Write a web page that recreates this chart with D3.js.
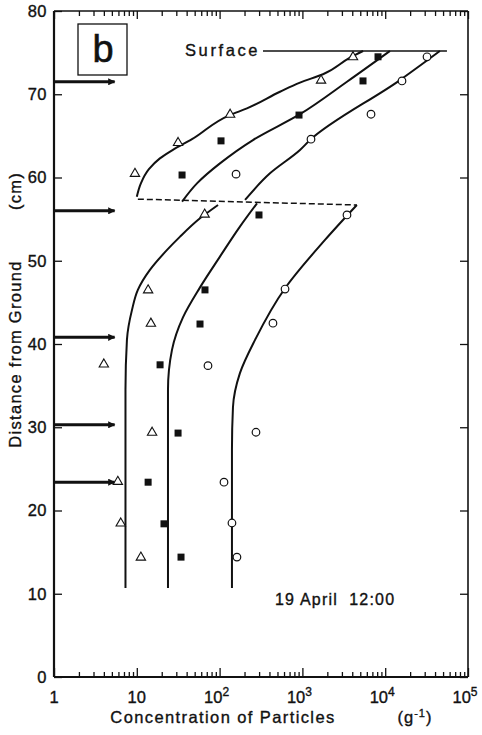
<!DOCTYPE html>
<html>
<head>
<meta charset="utf-8">
<script src="https://cdn.jsdelivr.net/npm/d3@7"></script>
<style>
    body { margin: 0; background: #fff; }
    svg { display: block; font-family: "Liberation Sans", Arial, sans-serif; }
    svg text { fill: #111; stroke: #111; stroke-width: 0.35px; }
    .axis line { stroke: #111; stroke-width: 1.3; }
</style>
</head>
<body>
<svg id="chart"></svg>
<script>
// Data: [concentration (g^-1), height (cm)]
let triangleObs = [[4085, 74.4], [1680, 71.6], [134, 67.5], [31.5, 64.1], [9.5, 60.4],
    [66, 55.5], [13.7, 46.4], [14.8, 42.4], [4.0, 37.5], [15.3, 29.3], [5.9, 23.4],
    [6.4, 18.4], [11.2, 14.3]];
let squareObs = [[8190, 74.5], [5395, 71.6], [910, 67.5], [104, 64.4], [35.2, 60.3],
    [299, 55.5], [66.6, 46.5], [58, 42.4], [19.1, 37.5], [31.5, 29.3], [13.7, 23.4],
    [21.3, 18.4], [34.2, 14.4]];
let circleObs = [[32000, 74.5], [15950, 71.6], [6740, 67.6], [1270, 64.6], [158, 60.4],
    [3455, 55.5], [617, 46.6], [441, 42.5], [72.4, 37.4], [275, 29.4], [113, 23.4],
    [141, 18.5], [162, 14.4]];

// Fitted curves, above and below the dashed boundary
let triangleUpper = [[10.0, 57.7], [11.2, 59.3], [14.0, 61.0], [19.0, 62.3], [27.0, 63.3],
    [46.4, 64.6], [133, 67.5], [214, 68.3], [536, 70.3], [935, 71.4], [1774, 72.4],
    [3757, 74.4], [5400, 75.2]];
let squareUpper = [[35.2, 57.1], [53.3, 59.3], [101, 61.7], [253, 64.5], [935, 67.6],
    [3455, 71.5], [11430, 75.2]];
let circleUpper = [[203, 57.3], [406, 60.5], [935, 63.3], [1236, 64.5], [15100, 71.7],
    [45900, 75.2]];
let triangleLower = [[95.7, 56.7], [58, 55.1], [33.3, 52.9], [23.2, 51.3], [14.4, 48.9],
    [10.3, 46.5], [8.75, 44.1], [7.6, 40.5], [7.3, 34.5], [7.3, 10.7]];
let squareLower = [[283, 56.9], [176, 54.1], [101, 50.5], [58, 46.8], [36.1, 43.2],
    [26.6, 39.3], [23.8, 34.5], [23.8, 10.7]];
let circleLower = [[4550, 56.7], [1875, 52.5], [617, 46.7], [268, 40.5], [176, 36.5],
    [145, 32.4], [141, 27.3], [141, 10.7]];

let dashedBoundary = [[10.3, 57.4], [4550, 56.7]];
let surfaceLine = [[334, 75.2], [55700, 75.2]];
let arrowHeights = [71.5, 56.0, 40.8, 30.3, 23.4];
let arrowReach = 5.4;   // arrows run from 1 to here on the x scale

let yTicks = [0, 10, 20, 30, 40, 50, 60, 70, 80];
let xMajor = [1, 10, 100, 1000, 10000, 100000];
let xTickBase = ["1", "10", "10", "10", "10", "10"];
let xTickSup = ["", "", "2", "3", "4", "5"];

let scales = {};
let config = { 'svg': {}, 'plot': {} };

function translate(x, y) {
    return 'translate(' + x + ',' + y + ')';
}

let drawChart = function() {
    config.svg.width = 482;
    config.svg.height = 735;
    config.plot.left = 54;
    config.plot.right = 468;
    config.plot.top = 11;
    config.plot.bottom = 677;

    let svg = d3.select("#chart")
        .attr("width", config.svg.width)
        .attr("height", config.svg.height);

    scales.x = d3.scaleLog().domain([1, 100000]).range([config.plot.left, config.plot.right]);
    scales.y = d3.scaleLinear().domain([0, 80]).range([config.plot.bottom, config.plot.top]);

    // minor ticks 2..9 in every decade
    let xMinor = [];
    for (let e = 0; e < 5; e++) {
        for (let m = 2; m <= 9; m++) xMinor.push(m * Math.pow(10, e));
    }

    // bottom and top ticks (pointing inward)
    svg.append("g").attr("class", "axis")
        .attr("transform", translate(0, config.plot.bottom))
        .call(d3.axisBottom(scales.x).tickValues(xMajor).tickSizeInner(-9).tickSizeOuter(0).tickFormat(""));
    svg.append("g").attr("class", "axis")
        .attr("transform", translate(0, config.plot.bottom))
        .call(d3.axisBottom(scales.x).tickValues(xMinor).tickSizeInner(-5).tickSizeOuter(0).tickFormat(""));
    svg.append("g").attr("class", "axis")
        .attr("transform", translate(0, config.plot.top))
        .call(d3.axisTop(scales.x).tickValues(xMajor).tickSizeInner(-8).tickSizeOuter(0).tickFormat(""));
    svg.append("g").attr("class", "axis")
        .attr("transform", translate(0, config.plot.top))
        .call(d3.axisTop(scales.x).tickValues(xMinor).tickSizeInner(-5).tickSizeOuter(0).tickFormat(""));

    // left (labelled) and right y ticks
    svg.append("g").attr("class", "axis")
        .attr("transform", translate(config.plot.left, 0))
        .call(d3.axisLeft(scales.y).tickValues(yTicks).tickSizeInner(-8).tickSizeOuter(0).tickPadding(7));
    svg.append("g").attr("class", "axis")
        .attr("transform", translate(config.plot.right, 0))
        .call(d3.axisRight(scales.y).tickValues(yTicks).tickSizeInner(-8).tickSizeOuter(0).tickFormat(""));

    svg.selectAll(".axis .domain").remove();
    svg.selectAll(".axis text").attr("font-size", 16.5).attr("fill", "#111")
        .style("letter-spacing", "0.5px");

    // frame
    let frame = svg.append("g").attr("stroke", "#111").attr("fill", "none");
    frame.append("line").attr("x1", config.plot.left).attr("x2", config.plot.left)
        .attr("y1", config.plot.top).attr("y2", config.plot.bottom).attr("stroke-width", 2.2);
    frame.append("line").attr("x1", config.plot.left).attr("x2", config.plot.right)
        .attr("y1", config.plot.bottom).attr("y2", config.plot.bottom).attr("stroke-width", 2.2);
    frame.append("line").attr("x1", config.plot.right).attr("x2", config.plot.right)
        .attr("y1", config.plot.top).attr("y2", config.plot.bottom).attr("stroke-width", 1.6);
    frame.append("line").attr("x1", config.plot.left).attr("x2", config.plot.right)
        .attr("y1", config.plot.top).attr("y2", config.plot.top).attr("stroke-width", 1.6);

    // x tick labels with superscripts
    let xLabels = svg.append("g");
    xMajor.forEach(function(v, i) {
        let t = xLabels.append("text")
            .attr("x", scales.x(v) - (xTickSup[i] ? 3 : 0))
            .attr("y", config.plot.bottom + 26)
            .attr("text-anchor", "middle")
            .attr("font-size", 16.5)
            .text(xTickBase[i]);
        if (xTickSup[i]) {
            t.append("tspan").attr("dy", -7).attr("font-size", 12).text(xTickSup[i]);
        }
    });

    // axis titles
    svg.append("text")
        .attr("x", 223).attr("y", 723)
        .attr("text-anchor", "middle").attr("font-size", 16.5).style("letter-spacing", "1.4px")
        .text("Concentration of Particles");
    let unit = svg.append("text")
        .attr("x", 415).attr("y", 723)
        .attr("text-anchor", "middle").attr("font-size", 16.5).style("letter-spacing", "1px")
        .text("(g");
    unit.append("tspan").attr("dy", -6).attr("font-size", 11).text("-1");
    unit.append("tspan").attr("dy", 6).text(")");

    svg.append("text")
        .attr("transform", translate(21, 354) + " rotate(-90)")
        .attr("text-anchor", "middle").attr("font-size", 16.5).style("letter-spacing", "1.3px")
        .text("Distance from Ground");
    svg.append("text")
        .attr("transform", translate(21, 191) + " rotate(-90)")
        .attr("text-anchor", "middle").attr("font-size", 16.5).style("letter-spacing", "1.3px")
        .text("(cm)");

    // panel label
    svg.append("rect").attr("x", 78).attr("y", 24).attr("width", 49).attr("height", 51)
        .attr("fill", "none").attr("stroke", "#111").attr("stroke-width", 1.3);
    svg.append("text").attr("x", 103).attr("y", 62).attr("text-anchor", "middle")
        .attr("font-size", 38).style("stroke-width", "0.6px").text("b");

    // annotations
    svg.append("text").attr("x", 185).attr("y", 56).attr("font-size", 16.5)
        .style("letter-spacing", "2.6px").text("Surface");
    svg.append("text").attr("x", 275).attr("y", 605).attr("font-size", 16)
        .style("letter-spacing", "1.2px").style("white-space", "pre")
        .text("19 April  12:00");

    // arrows at the sampling heights
    svg.append("defs").append("marker")
        .attr("id", "head").attr("viewBox", "0 0 10 10").attr("refX", 9).attr("refY", 5)
        .attr("markerWidth", 4.2).attr("markerHeight", 2.4).attr("orient", "auto")
        .attr("markerUnits", "strokeWidth")
        .append("path").attr("d", "M0,0 L10,5 L0,10 Z").attr("fill", "#111");
    svg.append("g").selectAll("line").data(arrowHeights).enter().append("line")
        .attr("x1", scales.x(1)).attr("x2", scales.x(arrowReach))
        .attr("y1", d => scales.y(d)).attr("y2", d => scales.y(d))
        .attr("stroke", "#111").attr("stroke-width", 3)
        .attr("marker-end", "url(#head)");

    // curves (height is monotone along each one, so smooth along y)
    let line = d3.line()
        .x(d => scales.x(d[0]))
        .y(d => scales.y(d[1]))
        .curve(d3.curveMonotoneY);
    let curves = [triangleUpper, squareUpper, circleUpper, triangleLower, squareLower, circleLower];
    svg.append("g").selectAll("path").data(curves).enter().append("path")
        .attr("d", d => line(d.slice().sort((a, b) => b[1] - a[1])))
        .attr("fill", "none").attr("stroke", "#111").attr("stroke-width", 2);

    let straight = d3.line().x(d => scales.x(d[0])).y(d => scales.y(d[1]));
    svg.append("path").attr("d", straight(dashedBoundary))
        .attr("fill", "none").attr("stroke", "#111").attr("stroke-width", 1.5)
        .attr("stroke-dasharray", "6,3");
    svg.append("path").attr("d", straight(surfaceLine))
        .attr("fill", "none").attr("stroke", "#111").attr("stroke-width", 1.6);

    // markers
    let symbols = svg.append("g");
    symbols.selectAll(".tri").data(triangleObs).enter().append("path")
        .attr("class", "tri")
        .attr("d", d3.symbol().type(d3.symbolTriangle).size(38))
        .attr("transform", d => translate(scales.x(d[0]), scales.y(d[1]) - 0.5))
        .attr("fill", "#fff").attr("stroke", "#111").attr("stroke-width", 1.1);
    symbols.selectAll(".sq").data(squareObs).enter().append("rect")
        .attr("class", "sq")
        .attr("x", d => scales.x(d[0]) - 3.5).attr("y", d => scales.y(d[1]) - 3.5)
        .attr("width", 7).attr("height", 7).attr("fill", "#111");
    symbols.selectAll(".circ").data(circleObs).enter().append("circle")
        .attr("class", "circ")
        .attr("cx", d => scales.x(d[0])).attr("cy", d => scales.y(d[1])).attr("r", 3.8)
        .attr("fill", "#fff").attr("stroke", "#111").attr("stroke-width", 1.2);
};

drawChart();
</script>
</body>
</html>
